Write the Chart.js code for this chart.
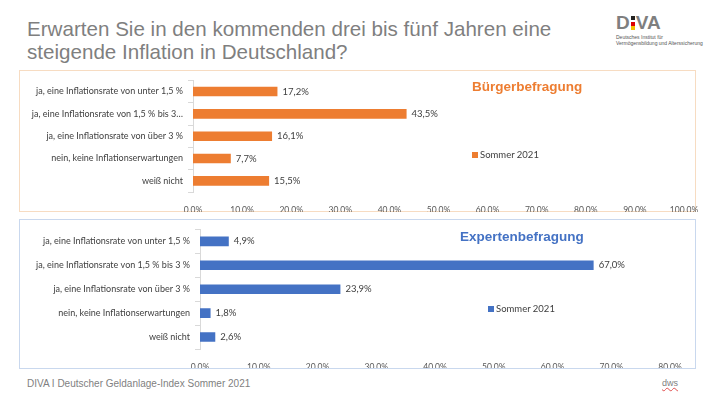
<!DOCTYPE html>
<html>
<head>
<meta charset="utf-8">
<script src="https://cdn.jsdelivr.net/npm/chart.js@4"></script>
<style>
  body { margin: 0; width: 710px; height: 399px; background: #fff; position: relative; overflow: hidden; font-family: "Liberation Sans", Arial, sans-serif; }
  .abs { position: absolute; }
  #title { left: 27px; top: 17px; font-size: 20.6px; line-height: 23px; color: #7f7f7f; }
  .box { border: 1px solid; box-sizing: border-box; }
  #box1 { left: 19px; top: 70px; width: 677px; height: 142px; border-color: #f7dcc2; }
  #box2 { left: 19px; top: 219px; width: 677px; height: 150px; border-color: #c9d8ee; }
  canvas { position: absolute; }
  .head { font-weight: bold; font-size: 13.5px; }
  .leg { font-family: Lato, sans-serif; font-size: 9.5px; color: #404040; }
  .leg i { display: inline-block; width: 6px; height: 6px; margin-right: 2px; vertical-align: 0px; }
  #foot { left: 27px; top: 378px; font-size: 10px; color: #7f7f7f; }
  #dws { left: 662px; top: 378px; font-size: 9px; color: #7f7f7f; text-decoration: underline wavy #e05050; }
  #logo { left: 616px; top: 13px; color: #7f7f7f; }
</style>
</head>
<body>
<div id="title" class="abs">Erwarten Sie in den kommenden drei bis fünf Jahren eine<br>steigende Inflation in Deutschland?</div>
<div id="logo" class="abs">
  <div style="font-weight:bold;font-size:19px;line-height:19px;">D<span style="display:inline-block;width:4px;height:14px;vertical-align:-1px;margin:0 1px;background:linear-gradient(#222 0 30%,#fff 30% 40%,#d00 40% 70%,#f5c000 70% 100%);"></span>VA</div>
  <div style="font-size:5px;line-height:6px;color:#555;margin-top:2px;">Deutsches Institut für<br>Vermögensbildung und Alterssicherung</div>
</div>

<div id="box1" class="abs box"></div>
<div id="box2" class="abs box"></div>
<canvas id="c1" style="left:20px;top:70px;" width="690" height="142"></canvas>
<canvas id="c2" style="left:20px;top:219px;" width="690" height="149"></canvas>

<div class="abs head" style="left:472px;top:79px;color:#ed7d31;">Bürgerbefragung</div>
<div class="abs leg" style="left:472px;top:149px;"><i style="background:#ed7d31"></i>Sommer 2021</div>
<div class="abs head" style="left:460px;top:229px;color:#4472c4;">Expertenbefragung</div>
<div class="abs leg" style="left:488px;top:303px;"><i style="background:#4472c4"></i>Sommer 2021</div>

<div id="foot" class="abs">DIVA I Deutscher Geldanlage-Index Sommer 2021</div>
<div id="dws" class="abs">dws</div>

<script>
let labelsBuerger = [
  'ja, eine Inflationsrate von unter 1,5 %',
  'ja, eine Inflationsrate von 1,5 % bis 3…',
  'ja, eine Inflationsrate von über 3 %',
  'nein, keine Inflationserwartungen',
  'weiß nicht',
];
let valuesBuerger = [17.2, 43.5, 16.1, 7.7, 15.5];

let labelsExperten = [
  'ja, eine Inflationsrate von unter 1,5 %',
  'ja, eine Inflationsrate von 1,5 % bis 3 %',
  'ja, eine Inflationsrate von über 3 %',
  'nein, keine Inflationserwartungen',
  'weiß nicht',
];
let valuesExperten = [4.9, 67.0, 23.9, 1.8, 2.6];

let seriesName = 'Sommer 2021';

const fontFamily = 'Lato, sans-serif';

function pct(v) {
  return v.toFixed(1).replace('.', ',') + '%';
}

// draws the value next to every bar
const valueLabels = {
  id: 'valueLabels',
  afterDatasetsDraw(chart) {
    const ctx = chart.ctx;
    const meta = chart.getDatasetMeta(0);
    ctx.save();
    ctx.font = '9.5px ' + fontFamily;
    ctx.fillStyle = '#404040';
    ctx.textBaseline = 'middle';
    meta.data.forEach((bar, i) => {
      ctx.fillText(pct(chart.data.datasets[0].data[i]), bar.x + 5, bar.y);
    });
    ctx.restore();
  }
};

function makeChart(id, labels, values, color, opts) {
  return new Chart(document.getElementById(id), {
    type: 'bar',
    data: {
      labels: labels,
      datasets: [{
        label: seriesName,
        data: values,
        backgroundColor: color,
        categoryPercentage: 1,
        barPercentage: opts.barPct
      }]
    },
    plugins: [valueLabels],
    options: {
      indexAxis: 'y',
      responsive: false,
      animation: false,
      layout: { padding: { top: opts.top, right: opts.right, left: 0, bottom: 0 } },
      plugins: { legend: { display: false }, tooltip: { enabled: false } },
      scales: {
        x: {
          min: 0,
          max: opts.max,
          afterFit: s => { s.height = opts.xh; },
          grid: { display: false },
          border: { display: false },
          ticks: {
            stepSize: 10,
            color: '#595959',
            font: { family: fontFamily, size: 8.5 },
            padding: 5,
            callback: v => pct(v)
          }
        },
        y: {
          afterFit: s => { s.width = opts.yw; },
          grid: { drawOnChartArea: false, tickLength: 5, color: '#d9d9d9' },
          border: { color: '#d9d9d9' },
          ticks: {
            color: '#404040',
            padding: 5,
            font: { family: fontFamily, size: 9 }
          }
        }
      }
    }
  });
}

makeChart('c1', labelsBuerger, valuesBuerger, '#ed7d31',
  { barPct: 0.43, top: 7, right: 26, max: 100, xh: 20, yw: 173 });
makeChart('c2', labelsExperten, valuesExperten, '#4472c4',
  { barPct: 0.4, top: 2, right: 40, max: 80, xh: 19, yw: 180 });
</script>
</body>
</html>
